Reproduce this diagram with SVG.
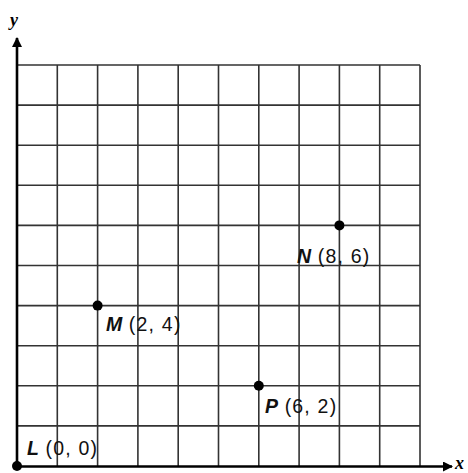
<svg xmlns="http://www.w3.org/2000/svg" width="468" height="473" viewBox="0 0 468 473">
<defs>
<style>
.grid{stroke:#333;stroke-width:1.6;fill:none}
.axis{stroke:#000;stroke-width:2.6;fill:none}
.lbl{font-family:"Liberation Sans",Arial,sans-serif;font-size:19.5px;fill:#111;letter-spacing:1.2px}
.pt{font-weight:bold;font-style:italic;letter-spacing:0}
.ax{font-family:"Liberation Serif","Times New Roman",serif;font-size:18px;font-style:italic;font-weight:bold;fill:#000}
.dot{fill:#000}
</style>
<marker id="ah" viewBox="0 0 10 10" refX="9" refY="5" markerWidth="10" markerHeight="10" markerUnits="userSpaceOnUse" orient="auto">
<path d="M0,0 L10,5 L0,10 z" fill="#000"/>
</marker>
</defs>
<g id="grid">
<path class="grid" d="M57.3,65V466M97.6,65V466M137.9,65V466M178.2,65V466M218.5,65V466M258.8,65V466M299.1,65V466M339.4,65V466M379.7,65V466M420,65V466"/>
<path class="grid" d="M17,65H420M17,105.1H420M17,145.2H420M17,185.3H420M17,225.4H420M17,265.5H420M17,305.6H420M17,345.7H420M17,385.8H420M17,425.9H420"/>
</g>
<g id="connectors">
<line class="axis" x1="17" y1="466" x2="17" y2="38" marker-end="url(#ah)"/>
<line class="axis" x1="17" y1="466.5" x2="452" y2="466.5" marker-end="url(#ah)"/>
</g>
<g id="axis-y"><text class="ax" x="10" y="26">y</text></g>
<g id="axis-x"><text class="ax" x="455" y="469">x</text></g>
<g id="L">
<circle class="dot" cx="17" cy="466" r="5"/>
<text class="lbl" x="27" y="455"><tspan class="pt">L</tspan> (0, 0)</text>
</g>
<g id="M">
<circle class="dot" cx="97.6" cy="305.6" r="5"/>
<text class="lbl" x="106" y="331"><tspan class="pt">M</tspan> (2, 4)</text>
</g>
<g id="N">
<circle class="dot" cx="339.4" cy="225.4" r="5"/>
<text class="lbl" x="297" y="263"><tspan class="pt">N</tspan> (8, 6)</text>
</g>
<g id="P">
<circle class="dot" cx="258.8" cy="385.8" r="5"/>
<text class="lbl" x="265" y="413"><tspan class="pt">P</tspan> (6, 2)</text>
</g>
</svg>
